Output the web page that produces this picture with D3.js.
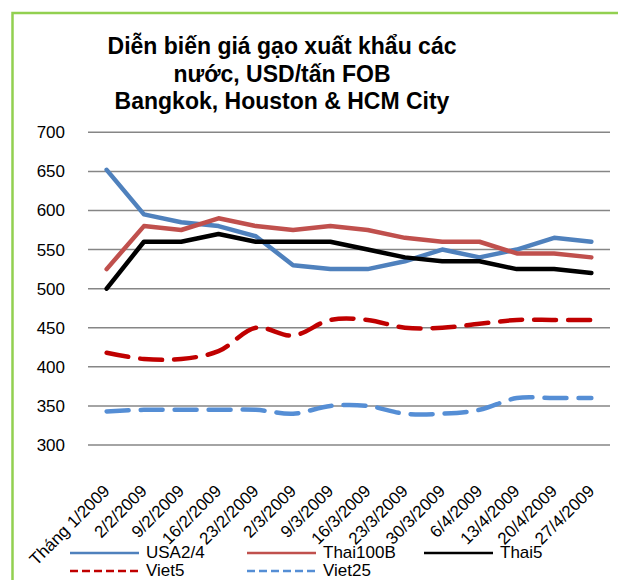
<!DOCTYPE html>
<html>
<head>
<meta charset="utf-8">
<title>Diễn biến giá gạo xuất khẩu</title>
<style>
  html, body { margin: 0; padding: 0; background: #fff; }
  svg { display: block; font-family: Arial, "Liberation Sans", sans-serif; }
</style>
</head>
<body>
<script src="https://cdn.jsdelivr.net/npm/d3@7"></script>
<script>
    var width = 618, height = 580;

    // du lieu doc tu bieu do
    var dates = ["Tháng 1/2009", "2/2/2009", "9/2/2009", "16/2/2009", "23/2/2009", "2/3/2009", "9/3/2009",
                 "16/3/2009", "23/3/2009", "30/3/2009", "6/4/2009", "13/4/2009", "20/4/2009", "27/4/2009"];
    var usa24    = [652, 595, 585, 580, 567, 530, 525, 525, 535, 550, 540, 550, 565, 560];
    var thai100b = [525, 580, 575, 590, 580, 575, 580, 575, 565, 560, 560, 545, 545, 540];
    var thai5    = [500, 560, 560, 570, 560, 560, 560, 550, 540, 535, 535, 525, 525, 520];
    var viet5    = [418, 410, 410, 420, 450, 440, 460, 460, 450, 450, 455, 460, 460, 460];
    var viet25   = [343, 345, 345, 345, 345, 340, 350, 350, 340, 340, 345, 360, 360, 360];
    var yTicks   = [300, 350, 400, 450, 500, 550, 600, 650, 700];
    var titleLines = ["Diễn biến giá gạo xuất khẩu các", "nước, USD/tấn FOB", "Bangkok, Houston & HCM City"];

    var series = [
        {name: "USA2/4",   values: usa24,    color: "#4F81BD", dash: null,    smooth: false},
        {name: "Thai100B", values: thai100b, color: "#C0504D", dash: null,    smooth: false},
        {name: "Thai5",    values: thai5,    color: "#000000", dash: null,    smooth: false},
        {name: "Viet5",    values: viet5,    color: "#C00000", dash: "22,12", smooth: true},
        {name: "Viet25",   values: viet25,   color: "#558ED5", dash: "22,12", smooth: true}
    ];

    var svg = d3.select("body").append("svg")
        .attr("width", width)
        .attr("height", height);

    // khung vien xanh
    svg.append("rect")
        .attr("x", 12.5).attr("y", 13)
        .attr("width", 800).attr("height", 800)
        .attr("fill", "none")
        .attr("stroke", "#92D050")
        .attr("stroke-width", 2.5);

    // tieu de
    svg.append("g").selectAll("text")
        .data(titleLines)
        .enter().append("text")
        .attr("x", 282)
        .attr("y", function (d, i) { return 54 + i * 27.5; })
        .attr("text-anchor", "middle")
        .attr("font-size", 23)
        .attr("font-weight", "bold")
        .attr("fill", "#000")
        .text(function (d) { return d; });

    var plot = {left: 88, right: 610, top: 132.3, bottom: 445};

    var x = d3.scaleBand()
        .domain(dates)
        .range([plot.left, plot.right]);
    var y = d3.scaleLinear()
        .domain([300, 700])
        .range([plot.bottom, plot.top]);

    // luoi ngang
    svg.append("g").selectAll("line")
        .data(yTicks)
        .enter().append("line")
        .attr("x1", plot.left).attr("x2", plot.right)
        .attr("y1", function (d) { return y(d); })
        .attr("y2", function (d) { return y(d); })
        .attr("stroke", "#868686")
        .attr("stroke-width", 1.5);

    // truc tung
    var yAxis = svg.append("g")
        .attr("transform", "translate(" + (plot.left - 21) + ",0)")
        .call(d3.axisLeft(y).tickValues(yTicks).tickSize(0).tickPadding(2));
    yAxis.select(".domain").remove();
    yAxis.selectAll("text")
        .attr("font-size", 17)
        .attr("font-family", "Arial, 'Liberation Sans', sans-serif")
        .attr("fill", "#000");

    // truc hoanh (nhan xoay)
    var xAxis = svg.append("g")
        .attr("transform", "translate(0," + plot.bottom + ")")
        .call(d3.axisBottom(x).tickSize(0));
    xAxis.select(".domain").remove();
    xAxis.selectAll("text")
        .attr("font-size", 17)
        .attr("font-family", "Arial, 'Liberation Sans', sans-serif")
        .attr("fill", "#000")
        .attr("text-anchor", "end")
        .attr("dy", 0)
        .attr("y", 0)
        .attr("transform", "translate(4,47) rotate(-45)");

    // duong
    var cx = function (i) { return x(dates[i]) + x.bandwidth() / 2; };
    series.forEach(function (s) {
        var line = d3.line()
            .x(function (d, i) { return cx(i); })
            .y(function (d) { return y(d); })
            .curve(s.smooth ? d3.curveCatmullRom.alpha(0.5) : d3.curveLinear);
        svg.append("path")
            .datum(s.values)
            .attr("d", line)
            .attr("fill", "none")
            .attr("stroke", s.color)
            .attr("stroke-width", 4.5)
            .attr("stroke-linecap", "round")
            .attr("stroke-linejoin", "round")
            .attr("stroke-dasharray", s.dash);
    });

    // chu giai
    var legendPos = [[70, 553], [247, 553], [424, 553], [70, 571], [247, 571]];
    var legend = svg.append("g").selectAll("g")
        .data(series)
        .enter().append("g")
        .attr("transform", function (d, i) { return "translate(" + legendPos[i][0] + "," + legendPos[i][1] + ")"; });
    legend.append("line")
        .attr("x1", 0).attr("x2", 69)
        .attr("y1", 0).attr("y2", 0)
        .attr("stroke", function (d) { return d.color; })
        .attr("stroke-width", 2.7)
        .attr("stroke-dasharray", function (d) { return d.dash ? "8,4" : null; });
    legend.append("text")
        .attr("x", 76)
        .attr("y", 5)
        .attr("font-size", 17)
        .attr("fill", "#000")
        .text(function (d) { return d.name; });
</script>
</body>
</html>
